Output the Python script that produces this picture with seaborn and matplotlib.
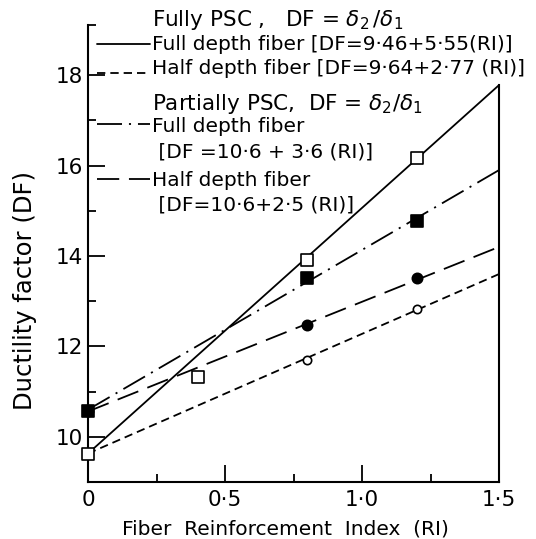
import matplotlib
matplotlib.use("Agg")
import matplotlib.pyplot as plt
import seaborn as sns
import pandas as pd
from matplotlib.lines import Line2D

sns.set_theme(style="white")
plt.rcParams['font.family'] = ['DejaVu Sans']
plt.rcParams['lines.scale_dashes'] = False
plt.rcParams['mathtext.fontset'] = 'dejavusans'
plt.rcParams['text.color'] = 'black'
plt.rcParams['axes.labelcolor'] = 'black'
plt.rcParams['xtick.color'] = 'black'
plt.rcParams['ytick.color'] = 'black'

# ---- data ----
ri_full_fully = [0.0, 0.4, 0.8, 1.2]
df_full_fully = [9.63, 11.33, 13.92, 16.17]
ri_half_fully = [0.0, 0.8, 1.2]
df_half_fully = [9.63, 11.71, 12.82]
ri_full_part = [0.0, 0.8, 1.2]
df_full_part = [10.58, 13.51, 14.77]
ri_half_part = [0.0, 0.8, 1.2]
df_half_part = [10.58, 12.48, 13.52]

# regression lines as drawn (values read at RI = 0 and 1.5)
line_ri = [0.0, 1.5]
line_full_fully = [9.63, 17.78]
line_half_fully = [9.63, 13.6]
line_full_part = [10.6, 15.9]
line_half_part = [10.56, 14.2]

x_ticks = [0, 0.5, 1.0, 1.5]
x_ticklabels = ["0", "0·5", "1·0", "1·5"]
x_minor = [0.25, 0.75, 1.25]
y_ticks = [10, 12, 14, 16, 18]
y_ticklabels = ["10", "12", "14", "16", "18"]
y_minor = [11, 13, 15, 17]

W, H = 536, 539
fig = plt.figure(figsize=(W / 100, H / 100), dpi=100)
ax = fig.add_axes([88 / W, 1 - 482 / H, (499 - 88) / W, (482 - 25) / H])
ymin, ymax = 9.0, 19.11
ax.set_xlim(0, 1.5)
ax.set_ylim(ymin, ymax)

lw = 1.3
styles = {
    "solid": "-",
    "short": (0, (6, 3.6)),
    "dashdot": (0, (18, 5, 1.5, 5)),
    "long": (0, (16, 7)),
}

def draw_line(xs, ys, ls):
    d = pd.DataFrame({"RI": xs, "DF": ys})
    sns.lineplot(data=d, x="RI", y="DF", ax=ax, color="black", lw=lw,
                 linestyle=ls, clip_on=False, zorder=2)

draw_line(line_ri, line_full_fully, styles["solid"])
draw_line(line_ri, line_half_fully, styles["short"])
draw_line(line_ri, line_full_part, styles["dashdot"])
draw_line(line_ri, line_half_part, styles["long"])

def draw_pts(xs, ys, marker, face, s, zo):
    d = pd.DataFrame({"RI": xs, "DF": ys})
    sns.scatterplot(data=d, x="RI", y="DF", ax=ax, marker=marker, s=s,
                    facecolor=face, edgecolor="black", linewidth=1.2,
                    clip_on=False, zorder=zo)

draw_pts(ri_half_fully, df_half_fully, "o", "white", 36, 3)
draw_pts(ri_full_fully, df_full_fully, "s", "white", 70, 4)
draw_pts(ri_half_part, df_half_part, "o", "black", 55, 3)
draw_pts(ri_full_part, df_full_part, "s", "black", 80, 4)

# axes styling
ax.spines["top"].set_visible(False)
for side in ["left", "bottom", "right"]:
    ax.spines[side].set_color("black")
    ax.spines[side].set_linewidth(1.5)
ax.spines["right"].set_bounds(ymin, line_full_fully[-1])

ax.set_xticks(x_ticks)
ax.set_xticklabels(x_ticklabels)
ax.set_xticks(x_minor, minor=True)
ax.set_yticks(y_ticks)
ax.set_yticklabels(y_ticklabels)
ax.set_yticks(y_minor + [ymax], minor=True)
ax.tick_params(which="major", direction="in", length=12, width=1.3,
               labelsize=15.5, colors="black", left=True, bottom=True,
               right=False, top=False)
ax.tick_params(axis="y", which="major", pad=3.5)
ax.tick_params(axis="x", which="major", pad=6)
ax.tick_params(which="minor", direction="in", length=6, width=1.3,
               left=True, bottom=True, right=False, top=False)

ax.set_xlabel("Fiber  Reinforcement  Index  (RI)", fontsize=14.5, color="black")
ax.xaxis.set_label_coords(0.48, -0.083)
ax.set_ylabel("Ductility factor (DF)", fontsize=17.5, color="black")
ax.yaxis.set_label_coords(-0.125, 0.42)

# ---- legend drawn as text ----
fx = lambda px: px / W
fy = lambda py: 1 - py / H
fs = 14.5
lx0, lx1, tx = 97, 150, 152

def leg_line(py, ls):
    fig.add_artist(Line2D([fx(lx0), fx(lx1)], [fy(py), fy(py)], color="black",
                          lw=lw, linestyle=ls))

def leg_text(py, s, size=fs):
    fig.text(fx(tx), fy(py), s, ha="left", va="center", fontsize=size, color="black")

leg_text(20, r"Fully PSC ,   DF = $\delta_2\,/\delta_1$", 15.5)
leg_line(44, styles["solid"])
leg_text(44, "Full depth fiber [DF=9·46+5·55(RI)]")
leg_line(73, styles["short"])
leg_text(68, "Half depth fiber [DF=9·64+2·77 (RI)]")
leg_text(104, r"Partially PSC,  DF = $\delta_2/\delta_1$", 15.5)
leg_line(124, styles["dashdot"])
leg_text(127, "Full depth fiber")
leg_text(152, " [DF =10·6 + 3·6 (RI)]")
leg_line(179, styles["long"])
leg_text(180, "Half depth fiber")
leg_text(205, " [DF=10·6+2·5 (RI)]")

fig.savefig("out.png", dpi=100, facecolor="white")
